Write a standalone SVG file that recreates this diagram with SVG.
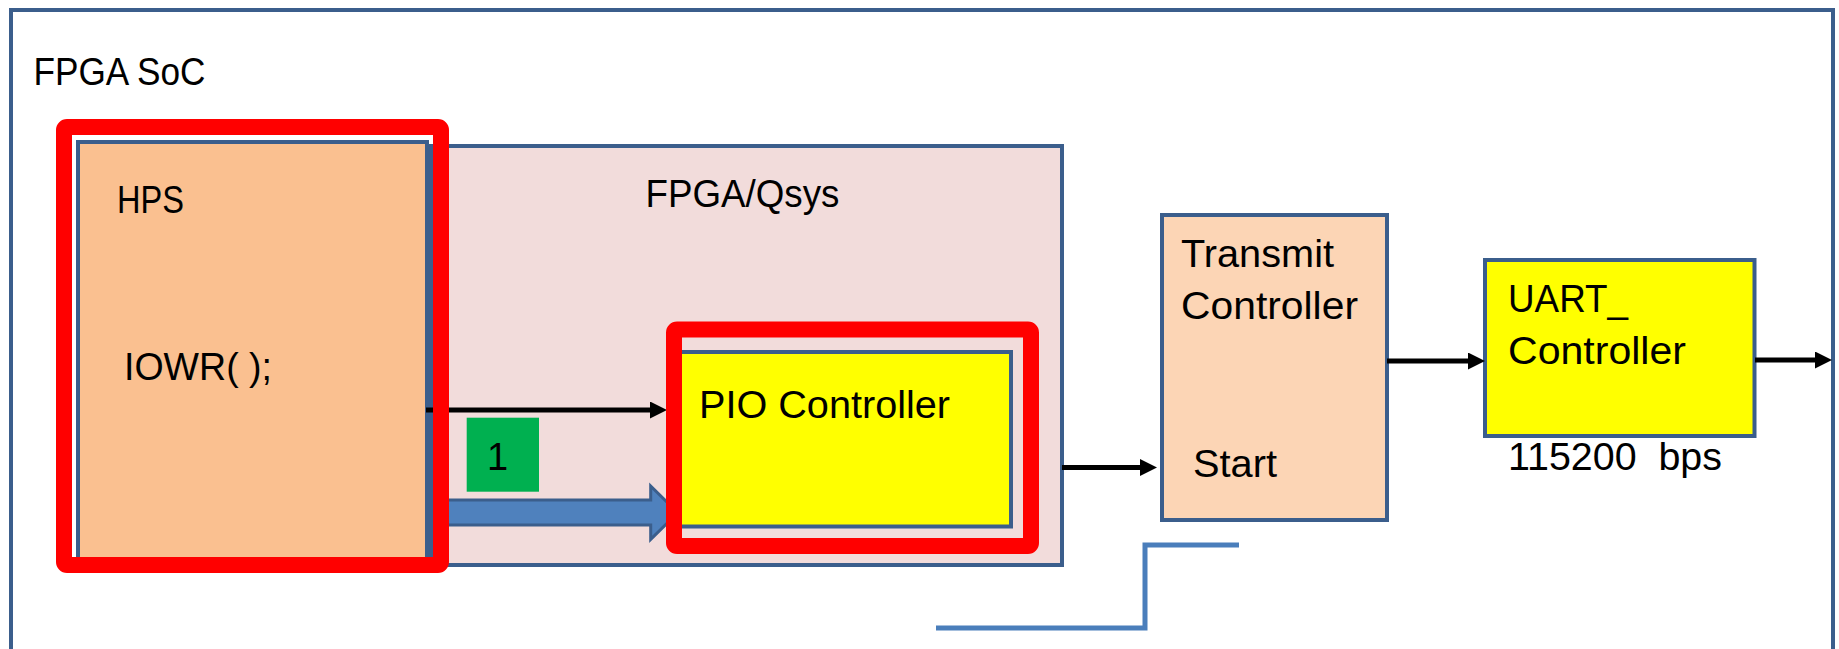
<svg xmlns="http://www.w3.org/2000/svg" width="1839" height="649" viewBox="0 0 1839 649">
  <style>
    .box { stroke: #3B5E8C; stroke-width: 4; }
    .lbl { font-family: "Liberation Sans", Arial, sans-serif; font-size: 38px; fill: #000; }
    .wire { stroke: #000; stroke-width: 5; fill: none; }
    .focus { fill: none; stroke: #FF0000; stroke-width: 16; stroke-linejoin: round; }
  </style>
  <defs>
    <marker id="head" markerUnits="userSpaceOnUse" markerWidth="17" markerHeight="17" refX="0" refY="8.5" orient="auto">
      <path d="M0,0 L17,8.5 L0,17 Z" fill="#000"/>
    </marker>
  </defs>

  <rect width="1839" height="649" fill="#FFFFFF"/>

  <!-- outer SoC boundary -->
  <g id="soc">
    <rect x="11" y="10" width="1822" height="700" fill="#FFFFFF" class="box"/>
    <text x="33.5" y="85" class="lbl" textLength="172" lengthAdjust="spacingAndGlyphs">FPGA SoC</text>
  </g>

  <!-- FPGA fabric / Qsys region -->
  <g id="fpga-qsys">
    <rect x="431" y="146" width="631" height="419" fill="#F2DCDB" class="box"/>
    <text x="645.5" y="207" class="lbl" textLength="194" lengthAdjust="spacingAndGlyphs">FPGA/Qsys</text>
  </g>

  <!-- hard processor system -->
  <g id="hps">
    <rect x="78" y="142" width="349" height="420" fill="#FAC090" class="box"/>
    <text x="117" y="213" class="lbl" textLength="67" lengthAdjust="spacingAndGlyphs">HPS</text>
    <text x="124" y="380" class="lbl" textLength="148" lengthAdjust="spacingAndGlyphs">IOWR( );</text>
  </g>

  <!-- PIO controller -->
  <g id="pio">
    <rect x="680" y="352" width="331" height="174.5" fill="#FFFF00" class="box"/>
    <text x="699" y="418" class="lbl" textLength="251" lengthAdjust="spacingAndGlyphs">PIO Controller</text>
  </g>

  <!-- transmit controller -->
  <g id="transmit">
    <rect x="1162" y="215" width="225" height="305" fill="#FCD5B5" class="box"/>
    <text x="1181" y="267" class="lbl" textLength="153" lengthAdjust="spacingAndGlyphs">Transmit</text>
    <text x="1181" y="319" class="lbl" textLength="177" lengthAdjust="spacingAndGlyphs">Controller</text>
    <text x="1193" y="477" class="lbl" textLength="84" lengthAdjust="spacingAndGlyphs">Start</text>
  </g>

  <!-- UART controller -->
  <g id="uart">
    <rect x="1485" y="260" width="269.5" height="176" fill="#FFFF00" class="box"/>
    <text x="1508" y="312" class="lbl" textLength="120" lengthAdjust="spacingAndGlyphs">UART_</text>
    <text x="1508" y="364" class="lbl" textLength="178" lengthAdjust="spacingAndGlyphs">Controller</text>
    <text x="1508" y="470" class="lbl" xml:space="preserve" style="white-space:pre" textLength="214" lengthAdjust="spacingAndGlyphs">115200  bps</text>
  </g>

  <!-- connectors -->
  <g id="connectors">
    <line x1="426" y1="410" x2="650" y2="410" class="wire" marker-end="url(#head)"/>
    <line x1="1062" y1="467.5" x2="1140" y2="467.5" class="wire" marker-end="url(#head)"/>
    <line x1="1387" y1="361" x2="1468" y2="361" class="wire" marker-end="url(#head)"/>
    <line x1="1755" y1="360" x2="1815" y2="360" class="wire" marker-end="url(#head)"/>
    <polygon points="442.7,500 650.7,500 650.7,486 677.7,512.7 650.7,539.3 650.7,525 442.7,525" fill="#4F81BD" stroke="#3B5E8C" stroke-width="3"/>
    <polyline points="936,628 1145,628 1145,545 1239,545" fill="none" stroke="#4A7EBB" stroke-width="5"/>
  </g>

  <!-- step badge -->
  <g id="step-1">
    <rect x="466.7" y="417.7" width="72.3" height="74" fill="#00B050"/>
    <text x="497.5" y="469.5" class="lbl" text-anchor="middle">1</text>
  </g>

  <!-- highlight outlines -->
  <g id="highlights">
    <rect x="64" y="127" width="377" height="438" rx="3" class="focus"/>
    <rect x="674" y="329.5" width="357" height="216.5" rx="3" class="focus"/>
  </g>
</svg>
